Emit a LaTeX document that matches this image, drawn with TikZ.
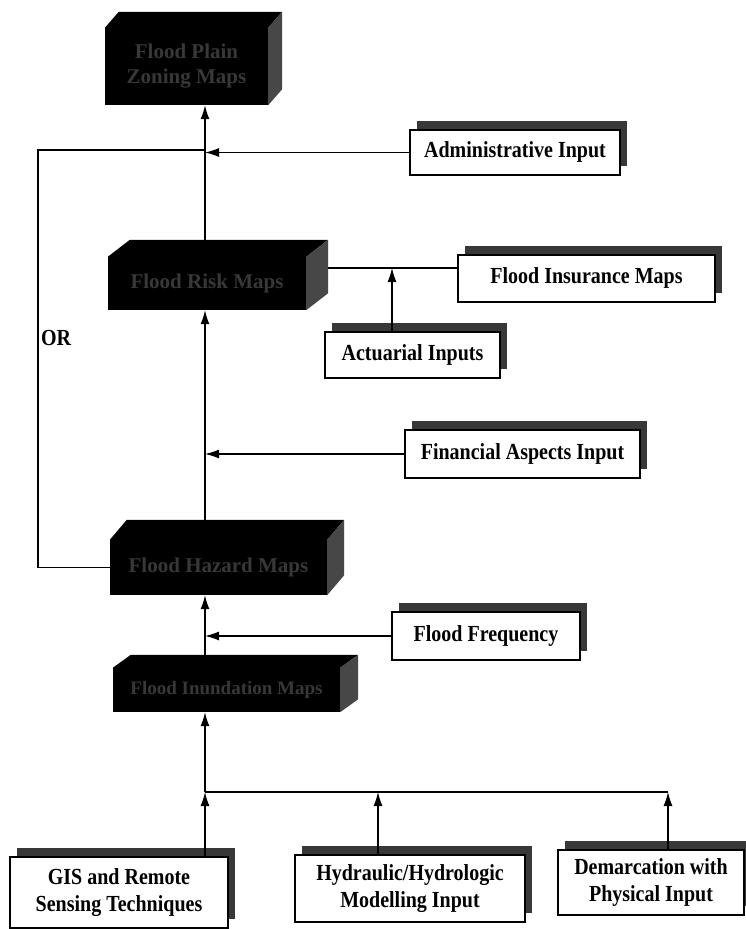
\documentclass[tikz,border=0pt]{standalone}
\usepackage{fontspec}
\setmainfont{Liberation Serif}
\usetikzlibrary{arrows.meta,shadows}
\newcommand\stx[1]{\scalebox{1}[1.15]{\begin{tabular}{@{}c@{}}#1\end{tabular}}}
\newcommand\cubefaces[3]{%
  \fill[black] (#1.north west) -- ++(#2,-#3) -- ([shift={(#2,-#3)}]#1.north east) -- (#1.north east) -- cycle;
  \fill[black!72] (#1.north east) -- ([shift={(#2,-#3)}]#1.north east) -- ([shift={(#2,-#3)}]#1.south east) -- (#1.south east) -- cycle;}
\begin{document}
\begin{tikzpicture}[x=1pt,y=-1pt,
  inbox/.style={draw=black, line width=1.3pt, fill=white, inner sep=0pt,
    font=\bfseries\fontsize{20}{23}\selectfont, align=center,
    drop shadow={shadow xshift=7pt, shadow yshift=9pt, fill=black!78, opacity=1}},
  darkbox/.style={fill=black, inner sep=0pt, text=black!78,
    font=\bfseries\fontsize{21}{25}\selectfont, align=center},
  arr/.style={-{Latex[length=14pt,width=9pt]}, line width=1.3pt},
  ln/.style={line width=1.3pt}]
\useasboundingbox (0,0) rectangle (746,929);
\fill[white] (0,0) rectangle (746,929);

% dark (3D) boxes, front faces
\node[darkbox, minimum width=163pt, minimum height=77pt] (b1) at (186.5,66.5) {Flood Plain\\Zoning Maps};
\node[darkbox, minimum width=198pt, minimum height=53pt] (b2) at (207,283.5) {Flood Risk Maps};
\node[darkbox, minimum width=217pt, minimum height=55pt] (b3) at (218.5,567.5) {Flood Hazard Maps};
\node[darkbox, minimum width=227pt, minimum height=44pt, font=\bfseries\fontsize{19}{22}\selectfont] (b4) at (226.5,690) {Flood Inundation Maps};

% input boxes
\node[inbox, minimum width=210pt, minimum height=45pt] (adm) at (515,152.5) {\stx{Administrative Input}};
\node[inbox, minimum width=257pt, minimum height=47pt] (ins) at (586.5,278.5) {\stx{Flood Insurance Maps}};
\node[inbox, minimum width=175pt, minimum height=46pt] (act) at (412.5,355) {\stx{Actuarial Inputs}};
\node[inbox, minimum width=235pt, minimum height=48pt] (fin) at (522.5,454) {\stx{Financial Aspects Input}};
\node[inbox, minimum width=188pt, minimum height=48pt] (freq) at (486,636) {\stx{Flood Frequency}};
\node[inbox, minimum width=218pt, minimum height=71pt] (gis) at (119,892.5) {\stx{GIS and Remote\\Sensing Techniques}};
\node[inbox, minimum width=230pt, minimum height=67pt] (hyd) at (410,888.5) {\stx{Hydraulic/Hydrologic\\Modelling Input}};
\node[inbox, minimum width=186pt, minimum height=65pt] (dem) at (651,882.5) {\stx{Demarcation with\\Physical Input}};

\node[font=\bfseries\fontsize{20}{23}\selectfont] (or) at (56,340) {\stx{OR}};

% helper coordinates
\coordinate (spine) at (205,0);
\coordinate (loopc) at (38,150);
\coordinate (insy) at (0,268);
\coordinate (actx) at (392,0);
\coordinate (bus) at (0,792);
\coordinate (hydx) at (378,0);
\coordinate (demx) at (668,0);

% main spine
\draw[arr] (spine |- b2.north) -- (spine |- b1.south);
\draw[arr] (spine |- b3.north) -- (spine |- b2.south);
\draw[arr] (spine |- b4.north) -- (spine |- b3.south);
\draw[arr] (spine |- bus) -- (spine |- b4.south);

% side inputs
\draw[arr] (adm.west) -- (adm.west -| spine);
\draw[ln] (b2.east |- insy) -- (ins.west |- insy);
\draw[arr] (act.north -| actx) -- (actx |- insy);
\draw[arr] (fin.west) -- (fin.west -| spine);
\draw[arr] (freq.west) -- (freq.west -| spine);

% OR loop
\draw[ln] (b3.west) -| (loopc) -- (spine |- loopc);

% bottom inputs
\draw[arr] (spine |- gis.north) -- (spine |- bus);
\draw[ln] (spine |- bus) -- (demx |- bus);
\draw[arr] (hydx |- hyd.north) -- (hydx |- bus);
\draw[arr] (demx |- dem.north) -- (demx |- bus);

% 3D faces of dark boxes
\cubefaces{b1}{14}{16}
\cubefaces{b2}{22}{17}
\cubefaces{b3}{17}{20}
\cubefaces{b4}{18}{13}
\end{tikzpicture}
\end{document}
